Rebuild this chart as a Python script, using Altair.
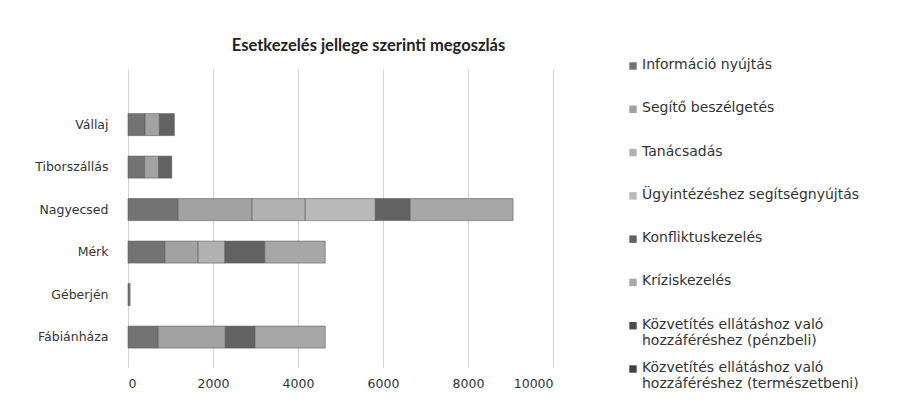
import altair as alt
import pandas as pd

categories = ["Vállaj", "Tiborszállás", "Nagyecsed", "Mérk", "Géberjén", "Fábiánháza"]
series = [
    "Információ nyújtás",
    "Segítő beszélgetés",
    "Tanácsadás",
    "Ügyintézéshez segítségnyújtás",
    "Konfliktuskezelés",
    "Kríziskezelés",
    "Közvetítés ellátáshoz való hozzáféréshez (pénzbeli)",
    "Közvetítés ellátáshoz való hozzáféréshez (természetbeni)",
]
legend_labels = [
    "Információ nyújtás",
    "Segítő beszélgetés",
    "Tanácsadás",
    "Ügyintézéshez segítségnyújtás",
    "Konfliktuskezelés",
    "Kríziskezelés",
    "Közvetítés ellátáshoz való\nhozzáféréshez (pénzbeli)",
    "Közvetítés ellátáshoz való\nhozzáféréshez (természetbeni)",
]

# values per series, in the order of `categories`
informacio = [400, 390, 1180, 870, 30, 710]
segito = [340, 330, 1740, 780, 20, 1580]
tanacsadas = [0, 0, 1250, 630, 0, 0]
ugyintezes = [0, 0, 1650, 0, 0, 0]
konfliktus = [350, 310, 820, 940, 0, 700]
krizis = [0, 0, 2420, 1420, 0, 1650]
penzbeli = [0, 0, 0, 0, 0, 0]
termeszetbeni = [0, 0, 0, 0, 0, 0]

colors = ["#737373", "#a2a2a2", "#b1b1b1", "#b9b9b9", "#626262", "#a7a7a7", "#4d4d4d", "#434343"]
x_ticks = [0, 2000, 4000, 6000, 8000, 10000]

all_values = [informacio, segito, tanacsadas, ugyintezes, konfliktus, krizis, penzbeli, termeszetbeni]
rows = []
for i, (s, vals) in enumerate(zip(series, all_values)):
    for c, v in zip(categories, vals):
        rows.append({"cat": c, "series": s, "idx": i, "value": v})
df = pd.DataFrame(rows)

leg = pd.DataFrame({"series": series, "label": legend_labels})

FONT = "DejaVu Sans"
color_scale = alt.Scale(domain=series, range=colors)

bars = (
    alt.Chart(df)
    .transform_filter("datum.value > 0")
    .mark_bar(size=22, stroke="#5c5c5c", strokeWidth=0.6)
    .encode(
        x=alt.X(
            "value:Q",
            stack="zero",
            scale=alt.Scale(domain=[0, 10000], nice=False),
            axis=alt.Axis(
                values=x_ticks, title=None, grid=True, gridColor="#d4d4d4",
                domain=False, ticks=False, labelPadding=10, labelFontSize=12.5,
                labelFont=FONT, labelColor="#333333", format="d",
            ),
        ),
        y=alt.Y(
            "cat:N",
            sort=categories,
            scale=alt.Scale(paddingInner=0.5, paddingOuter=0.756, align=0.7),
            axis=alt.Axis(
                title=None, domain=False, ticks=False, labelPadding=20,
                labelFontSize=12.5, labelFont=FONT, labelColor="#333333",
                minExtent=115, maxExtent=115,
            ),
        ),
        color=alt.Color("series:N", scale=color_scale, legend=None),
        order=alt.Order("idx:Q"),
    )
)

leg_y = alt.Y(
    "series:N", sort=series,
    scale=alt.Scale(type="point", domain=series, range=[-3, 300], padding=0),
    axis=None,
)

leg_sq = alt.Chart(leg).mark_square(size=55, opacity=1).encode(
    x=alt.value(505),
    y=leg_y,
    color=alt.Color("series:N", scale=color_scale, legend=None),
)
leg_txt = alt.Chart(leg).mark_text(
    align="left", baseline="top", dx=9, dy=-8, lineBreak="\n", lineHeight=16,
    fontSize=14, font=FONT, color="#333333",
).encode(
    x=alt.value(505),
    y=leg_y,
    text="label:N",
)

chart = (
    alt.layer(bars, leg_sq, leg_txt)
    .resolve_scale(y="independent")
    .properties(
        width=425,
        height=298,
        title=alt.TitleParams(
            "Esetkezelés jellege szerinti megoszlás", fontSize=16.5, font="Lato",
            fontWeight="bold", anchor="middle", frame="group", offset=4, dx=28,
            color="#222222",
        ),
        padding={"left": 5, "top": 29, "right": 5, "bottom": 5},
        background="white",
    )
    .configure_view(stroke=None)
)

chart.save("out.html", embed_options={"renderer": "svg", "actions": False})
